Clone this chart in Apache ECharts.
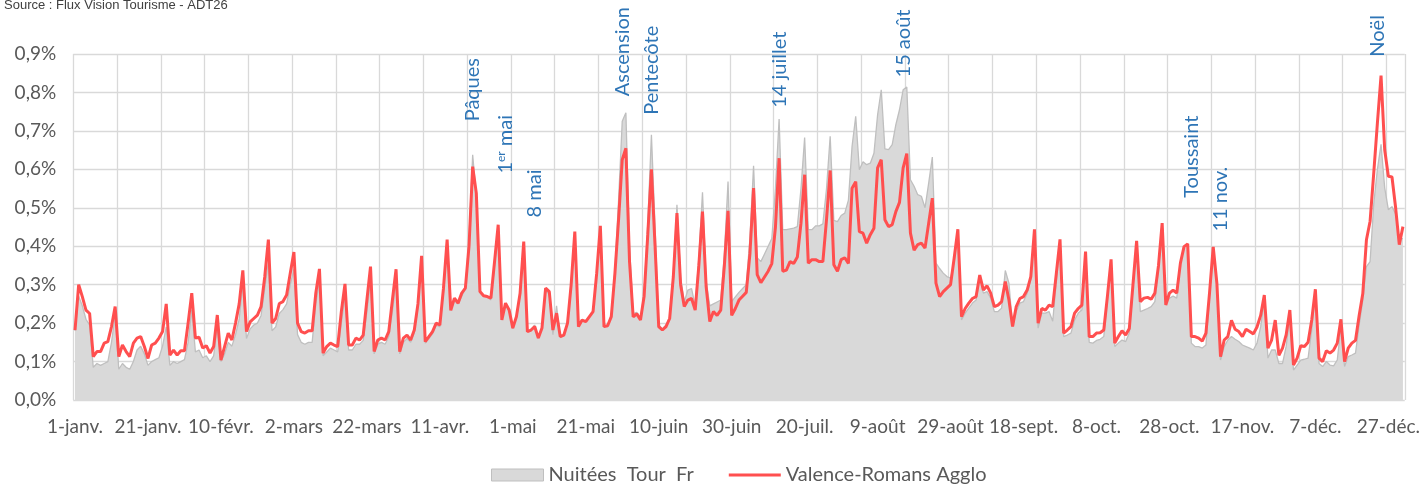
<!DOCTYPE html>
<html>
<head>
<meta charset="utf-8">
<script src="https://cdn.jsdelivr.net/npm/echarts@6/dist/echarts.min.js"></script>
<style>
html,body{margin:0;padding:0;background:#fff;}
#chart{width:1423px;height:486px;}
</style>
</head>
<body>
<div id="chart"></div>
<script>
// ---- Data (values in %) ----
const monthNames = ['janv.','févr.','mars','avr.','mai','juin','juil.','août','sept.','oct.','nov.','déc.'];
const monthDays = [31,28,31,30,31,30,31,31,30,31,30,31];

const seriesNames = ['Nuitées  Tour  Fr', 'Valence-Romans Agglo'];

// Nuitées Tour Fr (grey area), one value per day from 1 Jan
const nuiteesTourFr = [
0.18,0.27,0.245,0.21,0.195,0.085,0.095,0.09,0.095,0.1,
0.15,0.22,0.08,0.095,0.085,0.08,0.1,0.13,0.14,0.12,
0.09,0.1,0.105,0.11,0.14,0.19,0.09,0.1,0.095,0.1,
0.105,0.15,0.235,0.125,0.13,0.11,0.115,0.1,0.115,0.19,
0.1,0.12,0.15,0.14,0.17,0.21,0.3,0.16,0.185,0.195,
0.2,0.22,0.29,0.36,0.18,0.19,0.225,0.235,0.25,0.3,
0.34,0.17,0.15,0.145,0.15,0.15,0.25,0.31,0.115,0.125,
0.135,0.13,0.125,0.2,0.27,0.13,0.13,0.145,0.145,0.155,
0.23,0.31,0.12,0.145,0.15,0.145,0.165,0.23,0.31,0.12,
0.15,0.16,0.15,0.175,0.24,0.36,0.148,0.16,0.172,0.195,
0.19,0.28,0.4,0.235,0.258,0.25,0.27,0.29,0.42,0.638,
0.53,0.28,0.27,0.268,0.26,0.35,0.445,0.21,0.25,0.23,
0.185,0.215,0.27,0.4,0.178,0.182,0.195,0.16,0.185,0.285,
0.275,0.17,0.245,0.162,0.168,0.198,0.31,0.43,0.19,0.205,
0.205,0.215,0.23,0.33,0.445,0.19,0.195,0.22,0.34,0.52,
0.725,0.747,0.40,0.225,0.228,0.21,0.28,0.46,0.69,0.45,
0.195,0.185,0.195,0.215,0.33,0.508,0.32,0.255,0.286,0.29,
0.245,0.37,0.54,0.31,0.245,0.25,0.255,0.26,0.38,0.568,
0.256,0.268,0.28,0.29,0.30,0.42,0.609,0.37,0.36,0.38,
0.40,0.42,0.55,0.731,0.443,0.443,0.445,0.447,0.451,0.55,
0.683,0.443,0.443,0.453,0.453,0.458,0.55,0.686,0.467,0.464,
0.48,0.486,0.52,0.66,0.738,0.599,0.62,0.612,0.616,0.642,
0.742,0.807,0.653,0.651,0.664,0.716,0.755,0.807,0.814,0.573,
0.556,0.534,0.53,0.5,0.564,0.632,0.356,0.342,0.33,0.321,
0.317,0.36,0.44,0.208,0.226,0.239,0.252,0.26,0.317,0.278,
0.282,0.265,0.23,0.23,0.239,0.337,0.304,0.191,0.23,0.252,
0.256,0.278,0.313,0.44,0.187,0.226,0.226,0.23,0.205,0.31,
0.41,0.165,0.169,0.174,0.208,0.226,0.234,0.38,0.15,0.148,
0.155,0.158,0.165,0.26,0.36,0.139,0.148,0.156,0.152,0.174,
0.29,0.41,0.23,0.234,0.238,0.243,0.256,0.34,0.45,0.25,
0.265,0.27,0.265,0.356,0.399,0.405,0.148,0.139,0.139,0.135,
0.143,0.27,0.39,0.30,0.104,0.139,0.156,0.165,0.158,0.152,
0.143,0.139,0.135,0.13,0.148,0.19,0.26,0.109,0.13,0.13,
0.095,0.095,0.14,0.217,0.078,0.091,0.104,0.106,0.109,0.182,
0.28,0.095,0.087,0.1,0.091,0.089,0.104,0.19,0.087,0.113,
0.117,0.122,0.195,0.26,0.347,0.36,0.51,0.60,0.665,0.552,
0.495,0.503,0.484,0.42,0.42
];

// Valence-Romans Agglo (red line), one value per day from 1 Jan
const valenceRomans = [
0.182,0.30,0.269,0.234,0.225,0.113,0.126,0.126,0.148,0.152,
0.191,0.243,0.113,0.143,0.126,0.113,0.148,0.161,0.165,0.139,
0.108,0.143,0.148,0.161,0.178,0.25,0.117,0.13,0.117,0.128,
0.128,0.2,0.278,0.161,0.163,0.135,0.141,0.122,0.139,0.221,
0.104,0.139,0.174,0.156,0.2,0.25,0.337,0.178,0.203,0.212,
0.221,0.243,0.32,0.417,0.2,0.212,0.251,0.256,0.273,0.33,
0.385,0.2,0.178,0.174,0.18,0.18,0.278,0.341,0.122,0.139,
0.148,0.143,0.139,0.23,0.302,0.143,0.143,0.161,0.156,0.169,
0.26,0.347,0.126,0.156,0.161,0.156,0.178,0.26,0.34,0.126,
0.161,0.169,0.156,0.182,0.25,0.375,0.152,0.165,0.178,0.2,
0.195,0.291,0.417,0.233,0.265,0.252,0.278,0.291,0.40,0.607,
0.538,0.282,0.271,0.269,0.265,0.36,0.456,0.208,0.252,0.234,
0.187,0.217,0.278,0.412,0.178,0.182,0.191,0.161,0.187,0.291,
0.282,0.182,0.226,0.165,0.169,0.2,0.30,0.438,0.191,0.208,
0.204,0.217,0.23,0.33,0.453,0.191,0.193,0.217,0.33,0.47,
0.625,0.655,0.36,0.216,0.224,0.208,0.27,0.43,0.60,0.40,
0.191,0.182,0.191,0.212,0.32,0.486,0.30,0.243,0.26,0.264,
0.234,0.35,0.49,0.295,0.204,0.23,0.22,0.234,0.35,0.492,
0.22,0.238,0.26,0.27,0.28,0.38,0.551,0.326,0.305,0.32,
0.335,0.355,0.45,0.629,0.335,0.338,0.36,0.355,0.372,0.46,
0.586,0.356,0.365,0.365,0.36,0.36,0.47,0.597,0.352,0.335,
0.365,0.37,0.355,0.551,0.568,0.438,0.434,0.408,0.43,0.447,
0.604,0.625,0.469,0.451,0.456,0.49,0.514,0.604,0.641,0.434,
0.39,0.404,0.408,0.395,0.46,0.525,0.304,0.269,0.282,0.291,
0.30,0.37,0.444,0.217,0.238,0.252,0.264,0.269,0.325,0.286,
0.297,0.278,0.243,0.247,0.256,0.308,0.26,0.191,0.243,0.264,
0.269,0.286,0.321,0.444,0.2,0.238,0.234,0.247,0.243,0.33,
0.418,0.174,0.182,0.191,0.226,0.238,0.247,0.386,0.165,0.165,
0.174,0.175,0.182,0.27,0.366,0.148,0.165,0.18,0.169,0.186,
0.30,0.414,0.256,0.265,0.267,0.262,0.278,0.35,0.46,0.247,
0.278,0.286,0.278,0.356,0.399,0.406,0.165,0.165,0.161,0.153,
0.174,0.28,0.398,0.304,0.113,0.156,0.165,0.207,0.184,0.178,
0.165,0.184,0.178,0.172,0.19,0.22,0.273,0.135,0.156,0.208,
0.116,0.135,0.17,0.234,0.091,0.109,0.141,0.139,0.15,0.208,
0.288,0.109,0.1,0.128,0.122,0.13,0.148,0.21,0.1,0.135,
0.148,0.155,0.22,0.277,0.417,0.465,0.59,0.72,0.844,0.651,
0.582,0.58,0.50,0.404,0.451
];

// Event annotations: day index (from 1 Jan) and value (%) where the text starts
const annotationNames = ['Pâques','1er mai','8 mai','Ascension','Pentecôte','14 juillet','15 août','Toussaint','11 nov.','Noël'];
const annotationDays  = [109, 118, 126, 150, 158, 193, 227, 306, 314, 357];
const annotationVals  = [0.725, 0.589, 0.475, 0.790, 0.742, 0.760, 0.839, 0.526, 0.438, 0.893];

// ---- Build categories (2025, non-leap) ----
const categories = [];
monthDays.forEach((n, m) => { for (let d = 1; d <= n; d++) categories.push(d + '-' + monthNames[m]); });

const FONT = 'Lato';
const TXT = '#595959';
const BLUE = '#2E75B6';
const RED = '#FF4F4F';

const markData = annotationNames.map((name, i) => {
  const item = { coord: [categories[annotationDays[i]], annotationVals[i]], value: name };
  if (name === '1er mai') {
    item.label = { formatter: '{a|1}{s|er}{a| mai}' };
  } else {
    item.label = { formatter: name };
  }
  return item;
});

const chart = echarts.init(document.getElementById('chart'), null, { renderer: 'canvas' });
chart.setOption({
  animation: false,
  backgroundColor: '#ffffff',
  title: {
    text: 'Source : Flux Vision Tourisme - ADT26',
    left: -1, top: -6,
    textStyle: { fontFamily: 'Liberation Sans Narrow, Liberation Sans, Arial', fontSize: 13, fontWeight: 'normal', color: '#404040' }
  },
  grid: { left: 73.2, right: 17.2, top: 54, bottom: 86 },
  legend: {
    left: 486, top: 460,
    itemWidth: 52, itemHeight: 12, itemGap: 35,
    symbolKeepAspect: true,
    textStyle: { fontFamily: FONT, fontSize: 20, color: TXT },
    data: [
      { name: seriesNames[0], icon: 'rect', itemStyle: { color: '#D9D9D9', borderColor: '#BFBFBF', borderWidth: 1 } },
      { name: seriesNames[1], icon: 'path://M0,0 L52,0 L52,3 L0,3 Z', itemStyle: { color: RED, borderWidth: 0 } }
    ]
  },
  xAxis: {
    type: 'category',
    data: categories,
    boundaryGap: true,
    axisLine: { show: false },
    axisTick: { show: false },
    axisLabel: { interval: 19, margin: 17, color: TXT, fontFamily: FONT, fontSize: 19 },
    splitLine: { show: true, interval: 11, lineStyle: { color: '#D9D9D9', width: 1.3 } }
  },
  yAxis: {
    type: 'value',
    min: 0, max: 0.9, interval: 0.1,
    axisLine: { show: false },
    axisTick: { show: false },
    axisLabel: {
      margin: 17, color: TXT, fontFamily: FONT, fontSize: 19,
      formatter: v => v.toFixed(1).replace('.', ',') + '%'
    },
    splitLine: { show: true, lineStyle: { color: '#D9D9D9', width: 1.3 } }
  },
  series: [
    {
      name: seriesNames[0],
      type: 'line',
      data: nuiteesTourFr,
      symbol: 'none',
      lineStyle: { color: '#BFBFBF', width: 1.3 },
      itemStyle: { color: '#D9D9D9' },
      areaStyle: { color: '#D9D9D9', opacity: 1 },
      z: 2
    },
    {
      name: seriesNames[1],
      type: 'line',
      data: valenceRomans,
      symbol: 'none',
      lineStyle: { color: RED, width: 3 },
      itemStyle: { color: RED },
      z: 3,
      markPoint: {
        symbol: 'circle',
        symbolSize: 1,
        itemStyle: { color: 'rgba(0,0,0,0)' },
        label: {
          show: true,
          position: 'inside',
          rotate: 90,
          align: 'left',
          verticalAlign: 'middle',
          color: BLUE,
          fontFamily: FONT,
          fontSize: 20,
          rich: {
            a: { fontFamily: FONT, fontSize: 20, color: BLUE },
            s: { fontFamily: FONT, fontSize: 12, color: BLUE, verticalAlign: 'top', padding: [0, 0, 8, 0] }
          }
        },
        data: markData
      }
    }
  ]
});
</script>
</body>
</html>
